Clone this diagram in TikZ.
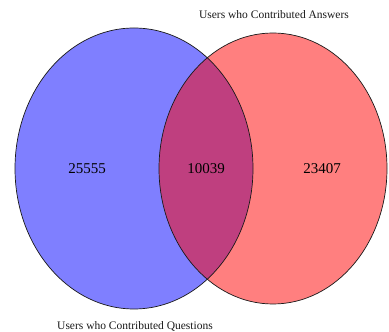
\documentclass[tikz,border=0pt]{standalone}
\usepackage{fontspec}
\setmainfont{Liberation Serif}
\definecolor{qset}{RGB}{0,0,255}
\definecolor{aset}{RGB}{255,0,0}
\definecolor{ink}{RGB}{25,25,25}
\usetikzlibrary{positioning}

\begin{document}
\begin{tikzpicture}[x=1pt,y=1pt]
        \useasboundingbox (0,0) rectangle (389,332);
        % the two sets, filled half-transparent so the overlap mixes
        \fill[qset, fill opacity=0.5] (134,163.5) ellipse [x radius=119, y radius=140.5];
        \fill[aset, fill opacity=0.5] (273,163.5) ellipse [x radius=114, y radius=135.5];
        \draw[ink, line width=0.7pt] (134,163.5) ellipse [x radius=119, y radius=140.5];
        \draw[ink, line width=0.7pt] (273,163.5) ellipse [x radius=114, y radius=135.5];
        % counts
        \node[font=\fontsize{15}{17}\selectfont] (onlyq) at (87,163) {25555};
        \node[font=\fontsize{15}{17}\selectfont] (both) at (206,163) {10039};
        \node[font=\fontsize{15}{17}\selectfont] (onlya) at (322,163) {23407};
        % set names
        \node[font=\fontsize{11.5}{13}\selectfont, text=ink] (aname) at (274,317) {Users who Contributed Answers};
        \node[font=\fontsize{11.5}{13}\selectfont, text=ink] (qname) at (135,5.5) {Users who Contributed Questions};
      \end{tikzpicture}
\end{document}
